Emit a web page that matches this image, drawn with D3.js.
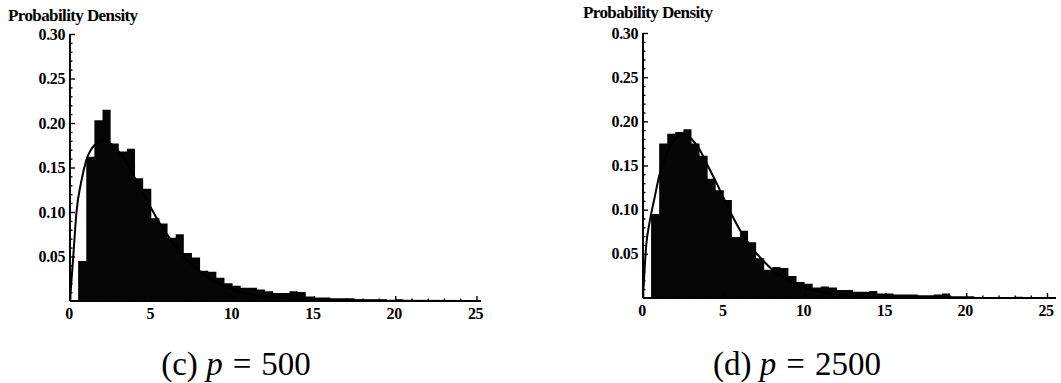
<!DOCTYPE html>
<html>
<head>
<meta charset="utf-8">
<script src="https://cdn.jsdelivr.net/npm/d3@7"></script>
<style>
  html, body { margin: 0; padding: 0; background: #fff; }
  svg { display: block; }
  .tick-label { font-family: "Liberation Serif", "Times New Roman", serif; font-weight: bold; fill: #000; }
</style>
</head>
<body>
<svg id="chart" width="1061" height="383"></svg>
<script>
// ---------- DATA ----------
const binStarts = [0,0.5,1,1.5,2,2.5,3,3.5,4,4.5,5,5.5,6,6.5,7,7.5,8,8.5,9,9.5,
  10,10.5,11,11.5,12,12.5,13,13.5,14,14.5,15,15.5,16,16.5,17,17.5,18,18.5,19,19.5,
  20,20.5,21,21.5,22,22.5,23,23.5,24,24.5];
const binWidth = 0.5;

const densityC = [0,0.045,0.162,0.203,0.215,0.177,0.168,0.171,0.138,0.126,
  0.093,0.087,0.071,0.075,0.054,0.049,0.034,0.033,0.026,0.020,
  0.017,0.015,0.015,0.013,0.011,0.009,0.009,0.011,0.010,0.005,
  0.004,0.004,0.003,0.003,0.003,0.002,0.002,0.002,0.002,0.001,
  0.002,0.001,0.001,0.001,0.001,0.001,0.001,0.0005,0.001,0.0005];

const densityD = [0,0.095,0.175,0.186,0.188,0.191,0.175,0.161,0.135,0.122,
  0.111,0.069,0.076,0.063,0.045,0.032,0.035,0.034,0.025,0.018,
  0.016,0.012,0.013,0.012,0.009,0.009,0.007,0.007,0.008,0.005,
  0.005,0.004,0.004,0.004,0.003,0.003,0.004,0.005,0.002,0.002,
  0.002,0.001,0.001,0.001,0.001,0.001,0.0015,0.001,0.001,0.001];

const curveX = [0,0.2,0.4,0.7,1.0,1.5,2.0,2.5,3.0,3.5,4.0,4.5,5.0,5.5,6.0,6.5,7.0,7.5,8.0,9.0,10,11,12,14,16,20,25];
const curveC = [0,0.05,0.10,0.135,0.158,0.175,0.180,0.177,0.168,0.155,0.138,0.121,0.104,0.088,0.074,0.061,0.050,0.041,0.033,0.021,0.013,0.008,0.005,0.002,0.001,0.0002,0];
const curveD = [0,0.06,0.085,0.112,0.138,0.165,0.180,0.185,0.180,0.168,0.150,0.132,0.113,0.094,0.077,0.063,0.051,0.041,0.032,0.020,0.012,0.007,0.004,0.0015,0.0005,0.0001,0];

const xTickLabels = ["0","5","10","15","20","25"];
const xTickValues = [0,5,10,15,20,25];
const yTickLabels = ["0.05","0.10","0.15","0.20","0.25","0.30"];
const yTickValues = [0.05,0.10,0.15,0.20,0.25,0.30];
const yLabel = "Probability Density";
const captions = [["(c)", "p", "500"], ["(d)", "p", "2500"]];

// ---------- DRAW ----------
const svg = d3.select("#chart");

const panels = [
  { dens: densityC, curve: curveC, x0: 70, x25: 476.5, y0: 301, y30: 34, xEnd: 481,
    titleX: 8, titleY: 21, capX: 236, capY: 375, cap: captions[0] },
  { dens: densityD, curve: curveD, x0: 643, x25: 1047, y0: 298, y30: 33, xEnd: 1056,
    titleX: 583, titleY: 18, capX: 797, capY: 375, cap: captions[1] }
];

panels.forEach(p => {
  const x = d3.scaleLinear().domain([0, 25]).range([p.x0, p.x25]);
  const y = d3.scaleLinear().domain([0, 0.30]).range([p.y0, p.y30]);
  const g = svg.append("g");

  // bars drawn as one step area (avoids seams between bins)
  const steps = binStarts.map((b, i) => ({ b, v: p.dens[i] }));
  steps.push({ b: binStarts[binStarts.length - 1] + binWidth, v: 0 });
  const area = d3.area()
    .x(d => x(d.b))
    .y0(y(0))
    .y1(d => y(d.v))
    .curve(d3.curveStepAfter);
  g.append("path").datum(steps)
    .attr("d", area)
    .attr("fill", "#050505");

  // curve
  const line = d3.line().x((d, i) => x(curveX[i])).y(d => y(d)).curve(d3.curveMonotoneX);
  g.append("path").datum(p.curve)
    .attr("d", line)
    .attr("fill", "none")
    .attr("stroke", "#000")
    .attr("stroke-width", 2);

  // y axis
  const ya = g.append("g").attr("transform", `translate(${p.x0},0)`);
  ya.append("line").attr("x1", 0).attr("x2", 0).attr("y1", y(0)).attr("y2", y(0.30))
    .attr("stroke", "#000").attr("stroke-width", 2);
  const axY = d3.axisRight(y).tickValues(d3.range(1, 31).map(i => i / 100))
    .tickSizeInner(0).tickSizeOuter(0).tickFormat("");
  ya.append("g").call(axY).call(s => s.select(".domain").remove())
    .selectAll(".tick line")
    .attr("x2", d => (Math.round(d * 100) % 5 === 0) ? 5 : 2.5)
    .attr("stroke", "#000").attr("stroke-width", 1.4);
  yTickValues.forEach((v, i) => {
    g.append("text").attr("class", "tick-label")
      .attr("x", p.x0 - 5).attr("y", y(v) + 5.5)
      .attr("text-anchor", "end")
      .attr("font-size", 16)
      .attr("letter-spacing", -0.4)
      .text(yTickLabels[i]);
  });

  // x axis
  const xa = g.append("g").attr("transform", `translate(0,${p.y0})`);
  xa.append("line").attr("x1", p.x0).attr("x2", p.xEnd).attr("y1", 0).attr("y2", 0)
    .attr("stroke", "#000").attr("stroke-width", 2);
  const axX = d3.axisTop(x).tickValues(d3.range(0, 26)).tickSizeInner(0).tickSizeOuter(0).tickFormat("");
  xa.append("g").call(axX).call(s => s.select(".domain").remove())
    .selectAll(".tick line")
    .attr("y2", d => (d % 5 === 0) ? -5 : -2.5)
    .attr("stroke", "#000").attr("stroke-width", 1.4);
  xTickValues.forEach((v, i) => {
    g.append("text").attr("class", "tick-label")
      .attr("x", x(v) - 1).attr("y", p.y0 + 18)
      .attr("text-anchor", "middle")
      .attr("font-size", 16)
      .attr("letter-spacing", -0.4)
      .text(xTickLabels[i]);
  });

  // y label
  g.append("text").attr("class", "tick-label")
    .attr("x", p.titleX).attr("y", p.titleY)
    .attr("font-size", 17)
    .attr("letter-spacing", -0.6)
    .text(yLabel);

  // caption
  const cap = g.append("text")
    .attr("x", p.capX).attr("y", p.capY)
    .attr("text-anchor", "middle")
    .attr("font-family", "'Liberation Serif', 'Times New Roman', serif")
    .attr("font-size", 33)
    .attr("fill", "#000");
  cap.append("tspan").text(p.cap[0] + " ");
  cap.append("tspan").attr("font-style", "italic").text(p.cap[1]);
  cap.append("tspan").attr("dx", 10).text("=");
  cap.append("tspan").attr("dx", 10).text(p.cap[2]);
});
</script>
</body>
</html>
